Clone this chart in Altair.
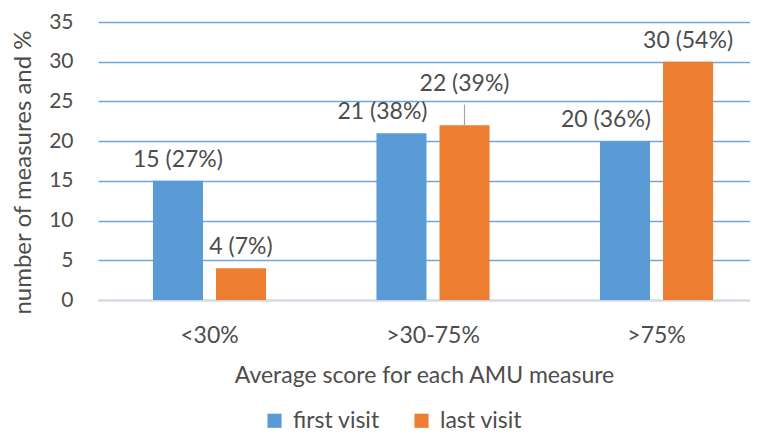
import altair as alt
import pandas as pd

categories = ["<30%", ">30-75%", ">75%"]
series = ["first visit", "last visit"]
first_visit = [15, 21, 20]
last_visit = [4, 22, 30]
first_pct = [27, 38, 36]
last_pct = [7, 39, 54]
y_ticks = [0, 5, 10, 15, 20, 25, 30, 35]
colors = ["#5B9BD5", "#ED7D31"]

# label placement hints (Excel-style manual adjustments)
label_lift = {("last visit", ">30-75%"): 2.6}
label_left = {("first visit", ">30-75%"), ("first visit", ">75%")}

rows = []
for i, c in enumerate(categories):
    for s, vals, pcts in (("first visit", first_visit, first_pct), ("last visit", last_visit, last_pct)):
        v = vals[i]
        lift = label_lift.get((s, c), 0)
        rows.append({
            "cat": c, "series": s, "value": v,
            "label": f"{v} ({pcts[i]}%)",
            "label_y": v + lift,
            "lifted": lift > 0,
            "shift": "left" if (s, c) in label_left else "none",
        })
df = pd.DataFrame(rows)

FONT = "Lato"
TXT = "#4D4D4D"
W, H = 652, 278

x_enc = alt.X("cat:N", sort=categories,
              scale=alt.Scale(paddingInner=0.494, paddingOuter=0.2055, align=0.598),
              axis=alt.Axis(title="Average score for each AMU measure", labelAngle=0,
                            ticks=False, domain=True, domainColor="#D9D9D9", domainWidth=1.5,
                            labelFontSize=23, labelPadding=24, titleFontSize=23,
                            titlePadding=17, labelColor=TXT, titleColor=TXT,
                            labelFont=FONT, titleFont=FONT, titleFontWeight="normal"))
xo_enc = alt.XOffset("series:N", sort=series,
                     scale=alt.Scale(paddingInner=0.206, paddingOuter=0))
y_scale = alt.Scale(domain=[0, 35], nice=False)

bars = alt.Chart(df).mark_bar().encode(
    x=x_enc, xOffset=xo_enc,
    y=alt.Y("value:Q", scale=y_scale,
            axis=alt.Axis(title="number of measures and %", values=y_ticks, tickCount=8,
                          labelOverlap=False, labelFlush=False,
                          ticks=False, domain=False, grid=True, gridColor="#6FA8DC",
                          gridWidth=1.5, labelFontSize=21, labelPadding=25,
                          titleFontSize=24, titleX=-75, titleY=150,
                          titleAlign="center", titleBaseline="middle", titleAngle=-90,
                          labelColor=TXT, titleColor=TXT, labelFont=FONT, titleFont=FONT,
                          titleFontWeight="normal")),
    color=alt.Color("series:N", sort=series,
                    scale=alt.Scale(domain=series, range=colors),
                    legend=alt.Legend(title=None, orient="none", legendX=165, legendY=387,
                                      direction="horizontal", symbolType="square",
                                      symbolSize=200, symbolStrokeWidth=0,
                                      labelFontSize=23, labelFont=FONT, labelColor=TXT,
                                      columnPadding=30, labelOffset=7, padding=0)),
)

def text_layer(filt, dx):
    return alt.Chart(df).transform_filter(filt).mark_text(
        baseline="bottom", dy=-9, dx=dx, fontSize=23, font=FONT, color=TXT
    ).encode(x=alt.X("cat:N", sort=categories), xOffset=alt.XOffset("series:N", sort=series),
             y=alt.Y("label_y:Q", scale=y_scale), text="label:N")

labels_plain = text_layer("datum.shift == 'none'", 0)
labels_left = text_layer("datum.shift == 'left'", -19)

leader = alt.Chart(df).transform_filter("datum.lifted").mark_rule(
    color="#A6A6A6", strokeWidth=1.2
).encode(x=alt.X("cat:N", sort=categories), xOffset=alt.XOffset("series:N", sort=series),
         y=alt.Y("value:Q", scale=y_scale), y2=alt.Y2("label_y:Q"))

chart = alt.layer(bars, leader, labels_plain, labels_left).properties(
    width=W, height=H,
    autosize=alt.AutoSizeParams(type="none"),
    padding={"left": 90, "top": 14, "right": 0, "bottom": 135},
).configure_view(stroke=None)

chart.save("out.html", embed_options={"renderer": "svg", "actions": False})
